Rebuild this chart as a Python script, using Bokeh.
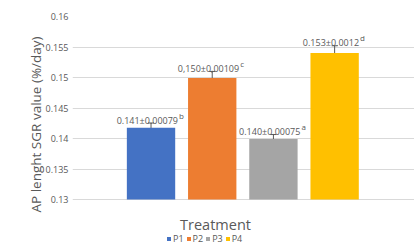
from bokeh.plotting import figure
from bokeh.models import ColumnDataSource, Range1d, FixedTicker, Whisker, Label, Title
from bokeh.core.properties import value
from bokeh.embed import file_html
from bokeh.resources import INLINE

# ---- data ----
categories = ["P1", "P2", "P3", "P4"]
sgr_values = [0.14175, 0.1499, 0.1399, 0.1540]
sgr_errors = [0.00079, 0.00109, 0.00075, 0.0012]
value_labels = ["0.141±0.00079", "0,150±0,00109", "0.140±0.00075", "0.153±0.0012"]
letters = ["b", "c", "a", "d"]
bar_colors = ["#4472C4", "#ED7D31", "#A5A5A5", "#FFC000"]
y_ticks = [0.13, 0.135, 0.14, 0.145, 0.15, 0.155, 0.16]
y_tick_labels = ["0.13", "0.135", "0.14", "0.145", "0.15", "0.155", "0.16"]
y_title = "AP lenght SGR value (%/day)"
x_title = "Treatment"

FONT = "Open Sans"
GREY = "#595959"
LABEL_PX = 9.0
SUP_PX = 8.0

# approximate Open Sans advance widths (em) used to centre label + superscript
def text_width(s, px):
    w = 0.0
    for c in s:
        if c.isdigit() or c == "±":
            w += 0.572
        elif c in ".,":
            w += 0.26
        else:
            w += 0.55
    return w * px

main_w = [text_width(t, LABEL_PX) for t in value_labels]
sup_w = [text_width(l, SUP_PX) for l in letters]
total_w = [m + 1 + s for m, s in zip(main_w, sup_w)]

xs = list(range(1, len(categories) + 1))
src = ColumnDataSource(dict(
    x=xs,
    cat=categories,
    val=sgr_values,
    upper=[v + e for v, e in zip(sgr_values, sgr_errors)],
    lower=[v - e for v, e in zip(sgr_values, sgr_errors)],
    label=value_labels,
    letter=letters,
    main_dx=[-t / 2 - 1 for t in total_w],
    sup_dx=[-t / 2 - 1 + m + 1 for t, m in zip(total_w, main_w)],
    color=bar_colors,
))

# frame: x 72->414 px, y 16->247 px; value axis 0.13 sits at 199 px
y_bottom = y_ticks[0] - 48 * (y_ticks[-1] - y_ticks[0]) / 183.0

p = figure(width=414, height=247, output_backend="svg", toolbar_location=None,
           x_range=Range1d(-0.283, 5.305), y_range=Range1d(y_bottom, y_ticks[-1]),
           x_axis_location=None,
           min_border_left=72, min_border_right=0, min_border_top=16, min_border_bottom=0)
p.outline_line_color = None
p.background_fill_color = "white"
p.border_fill_color = "white"

p.xgrid.visible = False
p.ygrid.grid_line_color = "#D9D9D9"
p.ygrid.grid_line_width = 1
p.ygrid.ticker = FixedTicker(ticks=y_ticks)

yax = p.yaxis[0]
yax.ticker = FixedTicker(ticks=y_ticks)
yax.major_label_overrides = {t: s for t, s in zip(y_ticks, y_tick_labels)}
yax.axis_line_color = None
yax.major_tick_line_color = None
yax.minor_tick_line_color = None
yax.major_tick_out = 0
yax.major_tick_in = 0
yax.minor_tick_out = 0
yax.minor_tick_in = 0
yax.axis_label_standoff = 0
yax.major_label_text_font = FONT
yax.major_label_text_font_size = "9px"
yax.major_label_text_color = GREY
yax.major_label_standoff = 4

bars = p.vbar(x="x", top="val", bottom=y_ticks[0], width=0.79, source=src,
              fill_color="color", line_color=None, legend_field="cat")

w = Whisker(source=src, base="x", upper="upper", lower="lower",
            line_color=GREY, line_width=1)
w.upper_head.size = 6
w.lower_head.size = 6
w.upper_head.line_color = GREY
w.lower_head.line_color = GREY
p.add_layout(w)

p.text(x="x", y="upper", text="label", source=src, text_font=value(FONT),
       text_font_size=f"{LABEL_PX}px", text_color=GREY, text_align="left",
       text_baseline="alphabetic", y_offset=-3, x_offset="main_dx")
p.text(x="x", y="upper", text="letter", source=src, text_font=value(FONT),
       text_font_size=f"{SUP_PX}px", text_color=GREY, text_align="left",
       text_baseline="alphabetic", y_offset=-8, x_offset="sup_dx")

ytitle = Title(text=y_title, align="left", offset=35, standoff=-4, text_font=FONT,
               text_font_size="13.5px", text_color=GREY, text_font_style="normal")
p.add_layout(ytitle, "left")

p.add_layout(Label(x=143, y=23, x_units="screen", y_units="screen", text=x_title,
                   text_align="center", text_baseline="middle",
                   text_font=FONT, text_font_size="14.5px", text_color=GREY))

leg = p.legend[0]
leg.orientation = "horizontal"
leg.location = (94, 2)
leg.label_text_font = FONT
leg.label_text_font_size = "9px"
leg.label_text_color = GREY
leg.glyph_width = 5
leg.glyph_height = 5
leg.label_height = 8
leg.label_width = 10
leg.label_standoff = 2
leg.spacing = 2
leg.padding = 0
leg.margin = 0
leg.border_line_color = None
leg.background_fill_alpha = 0

open("out.html", "w").write(file_html(p, INLINE))
